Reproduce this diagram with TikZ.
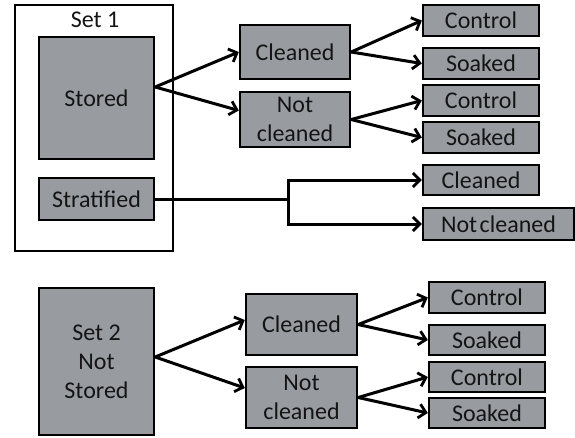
\documentclass[tikz,border=0pt]{standalone}
\usepackage{fontspec}
\setmainfont{Carlito}
\usetikzlibrary{arrows.meta}
\definecolor{boxfill}{RGB}{152,156,161}
\definecolor{txt}{RGB}{20,20,20}
\begin{document}
\begin{tikzpicture}[x=1pt,y=-1pt,
  gbox/.style={draw=black, line width=2.4pt, fill=boxfill, inner sep=0pt, font=\fontsize{24}{29}\selectfont, text=txt, align=center},
  frame/.style={draw=black, line width=1.6pt, fill=white, inner sep=0pt},
  lbl/.style={font=\fontsize{24}{29}\selectfont, text=txt, inner sep=0pt},
  arr/.style={line width=3pt, line join=miter, -{Straight Barb[length=7pt,width=14pt,line width=2.8pt]}},
  ln/.style={line width=3pt}]
\useasboundingbox (0,0) rectangle (575,437);
\fill[white] (0,0) rectangle (575,437);
% Set 1 frame
\node[frame, minimum width=158pt, minimum height=246pt] (set1) at (94,128) {};
\node[lbl] (set1lbl) at (95,20) {Set 1};
% boxes
\node[gbox, minimum width=115pt, minimum height=122pt] (stored) at (96.5,98) {Stored};
\node[gbox, minimum width=115pt, minimum height=42pt] (strat) at (96.5,199) {Stratified};
\node[gbox, minimum width=110pt, minimum height=54pt] (clean1) at (295,52) {Cleaned};
\node[gbox, minimum width=110pt, minimum height=55pt] (notclean1) at (295,119.5) {Not\\cleaned};
\node[gbox, minimum width=116pt, minimum height=31pt] (ctrl1) at (481,20.5) {Control};
\node[gbox, minimum width=116pt, minimum height=31pt] (soak1) at (481,63.5) {Soaked};
\node[gbox, minimum width=116pt, minimum height=31pt] (ctrl2) at (481,100.5) {Control};
\node[gbox, minimum width=116pt, minimum height=31pt] (soak2) at (481,137.5) {Soaked};
\node[gbox, minimum width=116pt, minimum height=30pt] (clean3) at (481,180) {Cleaned};
\node[gbox, minimum width=151pt, minimum height=32pt] (notclean3) at (498.5,224) {Not\hspace{0.1em}cleaned};
\node[gbox, minimum width=115pt, minimum height=147pt] (set2) at (96.5,361.5) {Set 2\\Not\\Stored};
\node[gbox, minimum width=111pt, minimum height=61pt] (clean2) at (301.5,324.5) {Cleaned};
\node[gbox, minimum width=111pt, minimum height=61pt] (notclean2) at (301.5,397.5) {Not\\cleaned};
\node[gbox, minimum width=116pt, minimum height=31pt] (ctrl3) at (487,297.5) {Control};
\node[gbox, minimum width=116pt, minimum height=30pt] (soak3) at (487,340) {Soaked};
\node[gbox, minimum width=116pt, minimum height=30pt] (ctrl4) at (487,377) {Control};
\node[gbox, minimum width=116pt, minimum height=30pt] (soak4) at (487,413) {Soaked};
% arrows set 1
\draw[arr] ([yshift=11pt]stored.east) -- (clean1.west);
\draw[arr] ([yshift=11pt]stored.east) -- ([yshift=9pt]notclean1.west);
\draw[arr] (clean1.east) -- (ctrl1.west);
\draw[arr] (clean1.east) -- (soak1.west);
\draw[arr] (notclean1.east) -- (ctrl2.west);
\draw[arr] (notclean1.east) -- (soak2.west);
% stratified
\coordinate (sj) at (288,199);
\draw[ln] (strat.east) -- (sj);
\draw[arr] (sj) |- (clean3.west);
\draw[arr] (sj) |- (notclean3.west);
% set 2
\draw[arr] ([yshift=4.5pt]set2.east) -- ([yshift=4.5pt]clean2.west);
\draw[arr] ([yshift=4.5pt]set2.east) -- ([yshift=9.5pt]notclean2.west);
\draw[arr] (clean2.east) -- (ctrl3.west);
\draw[arr] (clean2.east) -- (soak3.west);
\draw[arr] (notclean2.east) -- (ctrl4.west);
\draw[arr] (notclean2.east) -- (soak4.west);
\end{tikzpicture}
\end{document}
